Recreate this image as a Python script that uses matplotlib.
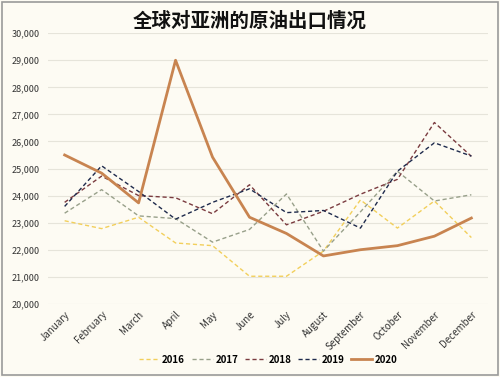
import matplotlib.pyplot as plt
from matplotlib.patches import Rectangle

plt.rcParams['font.family'] = ['Noto Sans CJK SC', 'DejaVu Sans']

months = ['January', 'February', 'March', 'April', 'May', 'June', 'July',
          'August', 'September', 'October', 'November', 'December']
y2016 = [23070, 22780, 23200, 22250, 22150, 21020, 21020, 21950, 23840, 22800, 23800, 22450]
y2017 = [23350, 24220, 23250, 23150, 22280, 22750, 24060, 21950, 23400, 24900, 23800, 24030]
y2018 = [23750, 24720, 24000, 23920, 23330, 24400, 22920, 23420, 24050, 24600, 26700, 25450]
y2019 = [23600, 25100, 24150, 23130, 23750, 24250, 23370, 23450, 22800, 24900, 25950, 25460]
y2020 = [25500, 24830, 23730, 29000, 25420, 23200, 22600, 21770, 22000, 22150, 22500, 23170]
yticks = list(range(20000, 30001, 1000))

bg = '#fdfbf3'
fig = plt.figure(figsize=(5, 3.77), dpi=100, facecolor=bg)
fig.patches.append(Rectangle((0.004, 0.005), 0.992, 0.99, transform=fig.transFigure,
                             fill=False, edgecolor='#9a9a9a', linewidth=1.2))
ax = fig.add_axes([0.096, 0.194, 0.88, 0.718], facecolor=bg)

x = range(len(months))
ax.plot(x, y2016, color='#f2cf5b', lw=1.0, ls=(0, (3, 2)), label='2016')
ax.plot(x, y2017, color='#98a08a', lw=1.0, ls=(0, (3, 2)), label='2017')
ax.plot(x, y2018, color='#7a3b3f', lw=1.0, ls=(0, (3, 2)), label='2018')
ax.plot(x, y2019, color='#1e2a4c', lw=1.0, ls=(0, (3, 2)), label='2019')
ax.plot(x, y2020, color='#c88450', lw=2.0, label='2020')

ax.set_ylim(20000, 30000)
ax.set_xlim(-0.45, 11.45)
ax.set_yticks(yticks)
ax.set_yticklabels([f'{v:,}' for v in yticks], fontsize=6.5, color='#333333')
ax.set_xticks(list(x))
ax.set_xticklabels(months, rotation=45, ha='right', rotation_mode='anchor',
                   fontsize=7, color='#333333')
ax.tick_params(axis='y', length=0, pad=6)
ax.tick_params(axis='x', length=0, pad=4)
ax.grid(axis='y', color='#e6e4da', lw=0.8)
ax.set_axisbelow(True)
for s in ax.spines.values():
    s.set_visible(False)

fig.text(0.5, 0.945, '全球对亚洲的原油出口情况', ha='center', va='center',
         fontsize=14, fontweight='bold', color='#111111')

leg = ax.legend(loc='center', bbox_to_anchor=(0.5, -0.207), ncol=5, frameon=False,
                fontsize=7, handlelength=2.2, columnspacing=0.7, handletextpad=0.2)
for t in leg.get_texts():
    t.set_fontweight('bold')

fig.savefig('out.png', dpi=100, facecolor=bg)
